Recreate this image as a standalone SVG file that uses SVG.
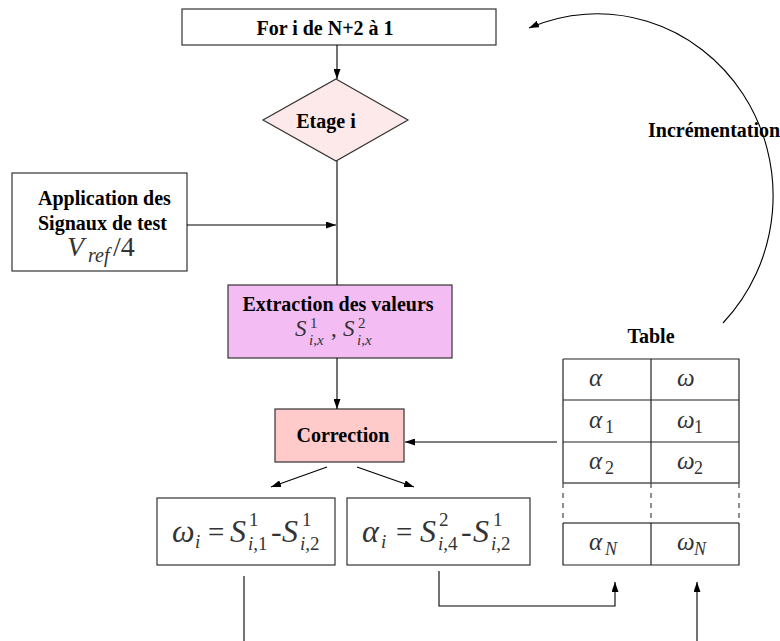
<svg xmlns="http://www.w3.org/2000/svg" width="780" height="641" viewBox="0 0 780 641">
<style>
.b{font-family:"Liberation Serif",serif;font-weight:bold;font-size:20px;fill:#000}
.m{font-family:"Liberation Serif",serif;font-style:italic;fill:#333}
.n{font-style:normal}
.box{stroke:#333;stroke-width:1.2}
.c{fill:none;stroke:#000;stroke-width:1.1}
.t{stroke:#222;stroke-width:1.2;fill:none}
</style>
<defs>
<marker id="ah" viewBox="0 0 10 7" refX="10" refY="3.5" markerWidth="10" markerHeight="7" markerUnits="userSpaceOnUse" orient="auto">
<path d="M0,0 L10,3.5 L0,7 z" fill="#000"/>
</marker>
</defs>
<rect width="780" height="641" fill="#fff"/>

<g id="for">
<rect class="box" x="182" y="9" width="314" height="36" fill="#fff"/>
<text class="b" x="325" y="35" text-anchor="middle">For i de N+2 à 1</text>
</g>

<g id="etage">
<polygon class="box" points="336,79 408,120 336,161 263,120" fill="#fde9e9"/>
<text class="b" x="326" y="128" text-anchor="middle">Etage i</text>
</g>

<g id="application">
<rect class="box" x="12" y="173" width="175" height="98" fill="#fff"/>
<text class="b" x="38" y="205">Application des</text>
<text class="b" x="38" y="230">Signaux de test</text>
<text class="m" font-size="28"><tspan x="67" y="256">V</tspan><tspan x="88" y="262" font-size="20">ref</tspan><tspan x="113" y="256" class="n">/4</tspan></text>
</g>

<g id="extraction">
<rect class="box" x="228" y="285" width="224" height="73" fill="#f3bdf3"/>
<text class="b" x="338" y="311" text-anchor="middle">Extraction des valeurs</text>
<text class="m" font-size="23"><tspan x="295" y="336">S</tspan><tspan x="310" y="328" font-size="15" class="n">1</tspan><tspan x="309" y="345" font-size="15">i<tspan class="n">,</tspan>x</tspan><tspan x="331" y="336" class="n">,</tspan><tspan x="343" y="336">S</tspan><tspan x="358" y="328" font-size="15" class="n">2</tspan><tspan x="357" y="345" font-size="15">i<tspan class="n">,</tspan>x</tspan></text>
</g>

<g id="correction">
<rect class="box" x="275" y="409" width="129" height="53" fill="#ffcaca"/>
<text class="b" x="343" y="442" text-anchor="middle">Correction</text>
</g>

<g id="omega">
<rect class="box" x="157" y="498" width="178" height="67" fill="#fff"/>
<text class="m" font-size="32"><tspan x="172" y="542">ω</tspan><tspan x="195" y="548" font-size="19">i</tspan><tspan x="208" y="542" class="n" font-size="29">=</tspan><tspan x="230" y="542">S</tspan><tspan x="249" y="526" font-size="19" class="n">1</tspan><tspan x="248" y="550" font-size="19">i<tspan class="n">,1</tspan></tspan><tspan x="271" y="542" class="n">-</tspan><tspan x="282" y="542">S</tspan><tspan x="302" y="526" font-size="19" class="n">1</tspan><tspan x="300" y="550" font-size="19">i<tspan class="n">,2</tspan></tspan></text>
</g>

<g id="alpha">
<rect class="box" x="347" y="498" width="183" height="67" fill="#fff"/>
<text class="m" font-size="32"><tspan x="362" y="542">α</tspan><tspan x="381" y="548" font-size="19">i</tspan><tspan x="396" y="542" class="n" font-size="29">=</tspan><tspan x="420" y="542">S</tspan><tspan x="439" y="526" font-size="19" class="n">2</tspan><tspan x="438" y="550" font-size="19">i<tspan class="n">,4</tspan></tspan><tspan x="461" y="542" class="n">-</tspan><tspan x="473" y="542">S</tspan><tspan x="493" y="526" font-size="19" class="n">1</tspan><tspan x="491" y="550" font-size="19">i<tspan class="n">,2</tspan></tspan></text>
</g>

<g id="table">
<text class="b" x="651" y="343" text-anchor="middle">Table</text>
<path class="t" d="M563,359 H739 V483 M563,359 V483 M651,359 V483 M563,400 H739 M563,442 H739"/>
<path d="M563,483 H739 M563,523 H739" stroke="#555" stroke-width="1.6"/>
<path d="M563,483 V523 M651,483 V523 M739,483 V523" stroke="#444" stroke-width="1.2" stroke-dasharray="5,5"/>
<path class="t" d="M563,523 V565 H739 V523 M651,523 V565"/>
<text class="m" font-size="25"><tspan x="589" y="386">α</tspan><tspan x="677" y="386">ω</tspan>
<tspan x="589" y="428">α</tspan><tspan x="605" y="433" font-size="18" class="n">1</tspan><tspan x="677" y="428">ω</tspan><tspan x="694" y="433" font-size="18" class="n">1</tspan>
<tspan x="589" y="469">α</tspan><tspan x="605" y="474" font-size="18" class="n">2</tspan><tspan x="677" y="469">ω</tspan><tspan x="694" y="474" font-size="18" class="n">2</tspan>
<tspan x="589" y="550">α</tspan><tspan x="605" y="555" font-size="18">N</tspan><tspan x="677" y="550">ω</tspan><tspan x="694" y="555" font-size="18">N</tspan></text>
</g>

<g id="incrementation">
<text class="b" x="648" y="137">Incrémentation</text>
</g>

<g id="connectors">
<path class="c" d="M337,45 V79" marker-end="url(#ah)"/>
<path class="c" d="M337,161 V285"/>
<path class="c" d="M187,225 H336" marker-end="url(#ah)"/>
<path class="c" d="M337,358 V409" marker-end="url(#ah)"/>
<path class="c" d="M557,442 H405" marker-end="url(#ah)"/>
<path class="c" d="M327,467 L271,487" marker-end="url(#ah)"/>
<path class="c" d="M357,467 L414,487" marker-end="url(#ah)"/>
<path class="c" d="M244,576 V641"/>
<path class="c" d="M439,571 V606 H615 V582" marker-end="url(#ah)"/>
<path class="c" d="M697,641 V582" marker-end="url(#ah)"/>
<path class="c" d="M723,323 A176 182 0 0 0 529,28" marker-end="url(#ah)"/>
</g>
</svg>
